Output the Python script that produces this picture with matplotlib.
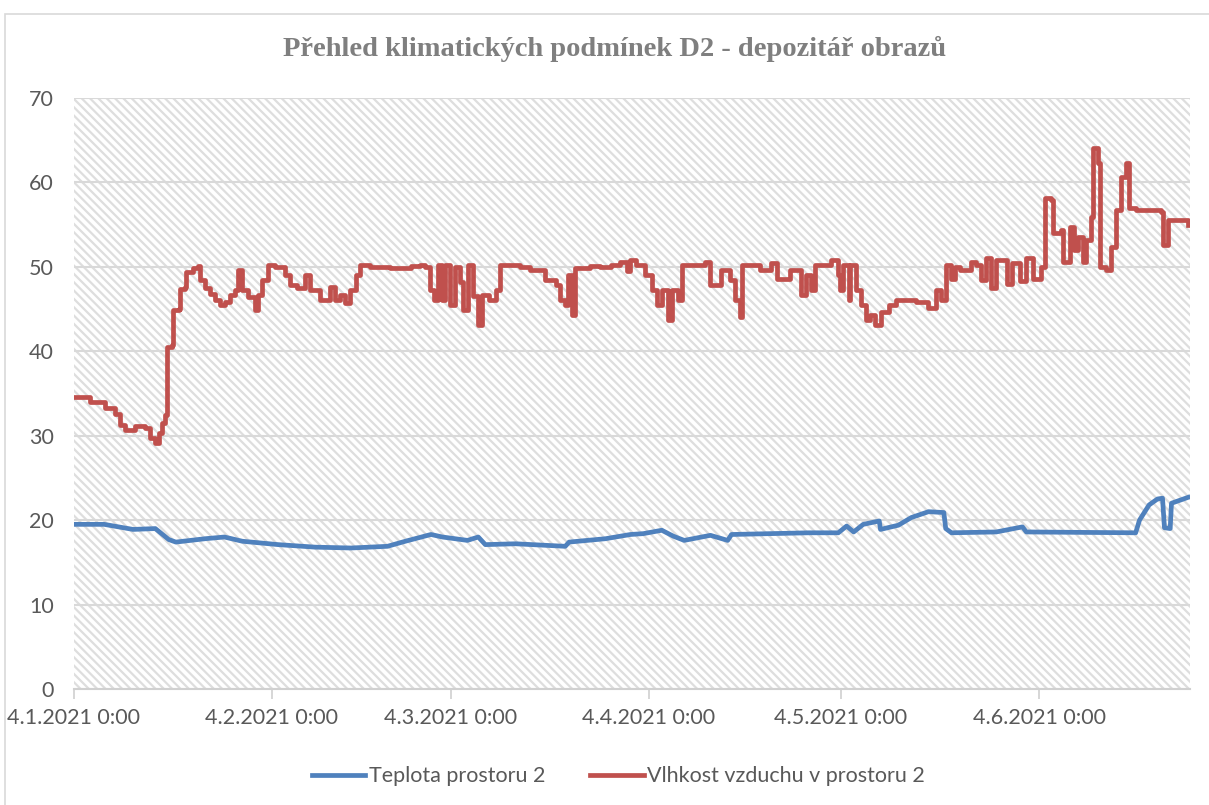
import numpy as np
import matplotlib
matplotlib.use("Agg")
import matplotlib.pyplot as plt
import matplotlib.dates as mdates
from matplotlib.patches import Rectangle

# dny od 4.1.2021 0:00
teplota_dny = [0, 4.8, 9.3, 12.8, 14.9, 16.0, 20.6, 23.6, 26.4, 32.0, 37.8, 43.4,
               49.1, 51.9, 55.9, 57.7, 61.6, 63.3, 64.4, 69.1, 76.9, 77.5, 83.2,
               87.1, 89.1, 92.0, 93.8, 95.5, 99.6, 102.3, 102.9, 115.0, 119.6,
               120.9, 122.0, 123.5, 126.0, 126.2, 129.0, 131.0, 133.7, 136.1,
               136.4, 137.3, 144.3, 148.4, 149.0, 166.1, 166.7, 168.2, 169.5,
               170.3, 170.6, 171.5, 171.7, 174.3]
teplota = [19.5, 19.5, 18.9, 19.0, 17.7, 17.4, 17.8, 18.0, 17.5, 17.1, 16.8, 16.7,
           16.9, 17.5, 18.3, 18.0, 17.6, 18.0, 17.1, 17.2, 16.9, 17.4, 17.8,
           18.3, 18.4, 18.8, 18.1, 17.6, 18.2, 17.6, 18.3, 18.5, 18.5,
           19.3, 18.6, 19.5, 19.9, 18.9, 19.4, 20.3, 21.0, 20.9,
           19.0, 18.5, 18.6, 19.2, 18.6, 18.5, 20.0, 21.8, 22.5,
           22.6, 19.1, 19.0, 22.0, 22.7]

vlhkost_dny = [0, 2.6, 4.9, 6.5, 7.3, 8.1, 9.6, 11.2, 12.0, 12.8, 13.4, 13.9, 14.3,
               14.6, 15.4,
               15.6, 16.5, 16.7, 17.4, 17.6, 18.7, 19.5, 19.8, 20.6, 21.4, 22.1,
               22.9, 23.7, 24.5, 25.3, 25.7, 26.4, 27.3, 28.4, 28.9, 29.5, 30.4,
               31.5, 33.1, 33.9, 35.0, 36.2, 37.0, 38.6, 40.1, 40.9, 41.7, 42.5,
               43.3, 44.1, 44.8, 46.4, 49.5, 52.7, 54.2, 55.0, 55.8, 56.3, 57.0,
               57.7, 58.1, 58.9, 59.7, 60.5, 60.9, 61.7, 62.5, 63.3, 63.9, 64.9,
               66.0, 66.7, 68.3, 69.9, 71.4, 73.8, 75.4, 76.1, 76.9, 77.4, 78.0,
               78.5, 80.8, 82.4, 84.0, 85.5, 86.5, 87.0, 87.9, 89.4, 90.5, 91.3,
               92.1, 93.0, 93.6, 94.6, 95.2, 98.0, 98.8, 99.6, 101.2, 102.7,
               103.5, 104.3, 104.6, 105.8, 107.4, 109.0, 110.0, 112.1, 113.7,
               114.5, 115.3, 116.0, 118.4, 119.6, 119.9, 120.4, 121.2, 121.5,
               122.3, 123.1, 123.9, 124.6, 125.4, 126.2, 127.5, 128.6, 131.7,
               133.7, 134.8, 135.6, 136.4, 137.2, 137.9, 138.7, 140.3, 141.1,
               141.9, 142.7, 143.5, 144.3, 146.0, 146.8, 148.0, 149.0, 150.0,
               151.3, 152.0, 152.8, 153.1, 154.4, 154.8, 155.9, 156.4, 157.1,
               157.8, 158.3, 159.1, 159.4, 160.2, 160.5, 161.4, 162.2, 163.0,
               163.8, 164.6, 165.0, 166.1, 170.0, 170.3, 171.1, 173.0, 174.3]
vlhkost = [34.6, 34.0, 33.3, 32.6, 31.3, 30.7, 31.2, 30.9, 29.7, 29.1, 30.3, 31.5, 32.5,
           40.5, 40.7,
           44.9, 45.0, 47.4, 47.6, 49.4, 49.9, 50.1, 48.4, 47.5, 46.8, 46.1,
           45.5, 45.8, 46.7, 47.3, 49.6, 47.3, 46.4, 44.9, 46.7, 48.4, 50.2,
           50.0, 49.0, 47.9, 47.5, 49.0, 47.3, 46.1, 47.6, 46.1, 46.7, 45.7,
           47.3, 49.0, 50.2, 50.0, 49.9, 50.1, 50.2, 50.0, 47.3, 46.1, 50.2,
           46.1, 50.2, 45.5, 50.0, 48.2, 44.9, 50.2, 46.5, 43.1, 46.7, 46.1,
           47.3, 50.2, 50.2, 50.0, 49.6, 48.4, 47.9, 46.1, 45.5, 49.0, 44.3,
           49.9, 50.1, 50.0, 50.2, 50.6, 49.5, 50.8, 50.2, 49.0, 47.3, 45.5,
           47.3, 43.7, 47.3, 46.1, 50.2, 50.2, 50.6, 47.9, 49.6, 48.4,
           46.1, 44.0, 50.2, 50.2, 49.6, 50.4, 48.5, 49.6, 46.7,
           49.0, 47.3, 50.2, 50.8, 49.0, 47.3, 50.2, 46.1, 50.2,
           47.3, 45.5, 43.7, 44.3, 43.1, 44.6, 45.5, 46.1, 45.8,
           45.1, 47.3, 46.1, 50.2, 48.5, 50.0, 49.6, 50.6, 50.2,
           48.4, 51.0, 47.5, 50.8, 48.0, 50.5, 48.3, 51.0, 48.6,
           50.0, 58.2, 57.9, 54.0, 54.4, 50.6, 54.7, 52.0, 53.5,
           50.6, 53.2, 55.9, 64.1, 62.3, 50.0, 49.6, 52.4, 56.7,
           60.6, 62.3, 57.0, 56.7, 56.5, 52.6, 55.5, 55.5, 55.0]

tick_dny = [0, 31, 59, 90, 120, 151]
tick_popisky = ["4.1.2021 0:00", "4.2.2021 0:00", "4.3.2021 0:00",
                "4.4.2021 0:00", "4.5.2021 0:00", "4.6.2021 0:00"]

start = mdates.date2num(np.datetime64("2021-01-04T00:00"))
pismo = ["Lato", "DejaVu Sans"]

fig = plt.figure(figsize=(12.09, 8.05), dpi=100)
ax = fig.add_axes([0.0608, 0.1441, 0.9235, 0.7342])

# okraj celého grafu
fig.patches.append(Rectangle((5 / 1209, -0.01), 1.2, 1 - 14 / 805 + 0.01,
                             transform=fig.transFigure, fill=False,
                             edgecolor="#d9d9d9", lw=1.2))

# šrafované pozadí
plt.rcParams["hatch.linewidth"] = 1.6
ax.add_patch(Rectangle((0, 0), 1, 1, transform=ax.transAxes, facecolor="white",
                       edgecolor="#dedede", hatch="\\\\\\\\", lw=0, zorder=0))

ax.plot(start + np.array(teplota_dny), teplota, color="#4f81bd", lw=3.4,
        label="Teplota prostoru 2", solid_joinstyle="round", zorder=3)
ax.plot(start + np.array(vlhkost_dny), vlhkost, color="#c0504d", lw=3.4,
        drawstyle="steps-post", label="Vlhkost vzduchu v prostoru 2",
        solid_joinstyle="round", zorder=3)

ax.set_xlim(start, start + 174.6)
ax.set_ylim(0, 70)
ax.set_yticks(range(0, 71, 10))
ax.set_xticks(start + np.array(tick_dny))
ax.set_xticklabels(tick_popisky)

ax.grid(axis="y", color="#d9d9d9", lw=1.5, zorder=1)
ax.set_axisbelow(True)
for s in ["top", "right", "left"]:
    ax.spines[s].set_visible(False)
ax.spines["bottom"].set_color("#d0d0d0")
ax.spines["bottom"].set_linewidth(1.5)

ax.tick_params(axis="y", length=0, pad=14, labelsize=15.5, labelcolor="#595959")
ax.tick_params(axis="x", length=7, width=1.2, color="#d0d0d0", pad=7,
               labelsize=15.5, labelcolor="#595959")
for t in ax.get_xticklabels() + ax.get_yticklabels():
    t.set_family(pismo)

fig.suptitle("Přehled klimatických podmínek D2 - depozitář obrazů", x=0.508, y=0.955,
             fontsize=20.5, fontweight="bold", color="#7f7f7f",
             family=["Liberation Serif", "DejaVu Serif"])

ax.legend(loc="upper center", bbox_to_anchor=(0.488, -0.098), ncol=2, frameon=False,
          handlelength=2.5, columnspacing=2.1, handletextpad=0.15,
          prop={"family": pismo, "size": 15.5}, labelcolor="#595959")

fig.savefig("out.png", dpi=100)
